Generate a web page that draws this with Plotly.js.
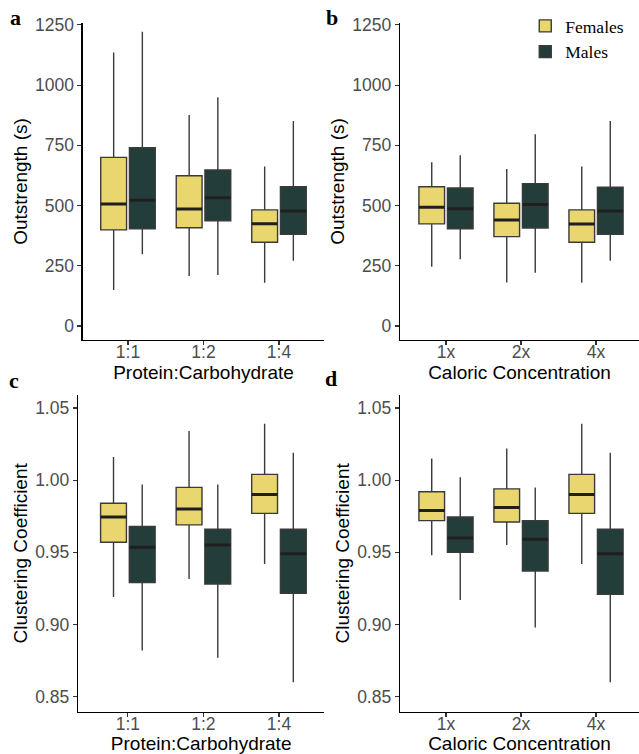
<!DOCTYPE html>
<html>
<head>
<meta charset="utf-8">
<script src="https://cdn.plot.ly/plotly-3.0.1.min.js"></script>
<style>html,body{margin:0;padding:0;background:#fff;}#chart{width:639px;height:754px;}</style>
</head>
<body>
<div id="chart"></div>
<script>
// Categories
const catsPC = ['1:1', '1:2', '1:4'];
const catsCal = ['1x', '2x', '4x'];

// a: Outstrength by Protein:Carbohydrate
const aF_low = [150, 208, 180], aF_q1 = [399, 408, 348], aF_med = [507, 486, 425], aF_q3 = [700, 624, 482], aF_up = [1136, 876, 662];
const aM_low = [298, 212, 271], aM_q1 = [404, 437, 381], aM_med = [522, 533, 478], aM_q3 = [740, 648, 578], aM_up = [1222, 950, 851];

// b: Outstrength by Caloric Concentration
const bF_low = [246, 181, 180], bF_q1 = [424, 371, 348], bF_med = [493, 440, 424], bF_q3 = [578, 510, 482], bF_up = [680, 652, 662];
const bM_low = [277, 221, 271], bM_q1 = [404, 407, 381], bM_med = [487, 505, 478], bM_q3 = [573, 591, 576], bM_up = [709, 796, 851];

// c: Clustering Coefficient by Protein:Carbohydrate
const cF_low = [0.919, 0.9315, 0.942], cF_q1 = [0.957, 0.969, 0.977], cF_med = [0.9745, 0.980, 0.990], cF_q3 = [0.984, 0.995, 1.004], cF_up = [1.016, 1.034, 1.039];
const cM_low = [0.882, 0.877, 0.860], cM_q1 = [0.929, 0.928, 0.9216], cM_med = [0.9535, 0.955, 0.949], cM_q3 = [0.968, 0.966, 0.966], cM_up = [0.997, 0.997, 1.019];

// d: Clustering Coefficient by Caloric Concentration
const dF_low = [0.948, 0.955, 0.942], dF_q1 = [0.972, 0.971, 0.977], dF_med = [0.979, 0.981, 0.990], dF_q3 = [0.992, 0.994, 1.004], dF_up = [1.015, 1.022, 1.039];
const dM_low = [0.917, 0.898, 0.860], dM_q1 = [0.950, 0.937, 0.921], dM_med = [0.960, 0.959, 0.949], dM_q3 = [0.9745, 0.972, 0.966], dM_up = [1.002, 0.995, 1.019];

const seriesNames = ['Females', 'Males'];
const fillColors = ['#E9D66F', '#233E3A'];

const panels = [
  {xa: 'x', ya: 'y', cats: catsPC, F: [aF_low, aF_q1, aF_med, aF_q3, aF_up], M: [aM_low, aM_q1, aM_med, aM_q3, aM_up]},
  {xa: 'x2', ya: 'y2', cats: catsCal, F: [bF_low, bF_q1, bF_med, bF_q3, bF_up], M: [bM_low, bM_q1, bM_med, bM_q3, bM_up]},
  {xa: 'x3', ya: 'y3', cats: catsPC, F: [cF_low, cF_q1, cF_med, cF_q3, cF_up], M: [cM_low, cM_q1, cM_med, cM_q3, cM_up]},
  {xa: 'x4', ya: 'y4', cats: catsCal, F: [dF_low, dF_q1, dF_med, dF_q3, dF_up], M: [dM_low, dM_q1, dM_med, dM_q3, dM_up]}
];

const traces = [];
panels.forEach((p, pi) => {
  [p.F, p.M].forEach((s, si) => {
    traces.push({
      type: 'box', name: seriesNames[si], showlegend: pi === 0,
      xaxis: p.xa, yaxis: p.ya, x: p.cats,
      lowerfence: s[0], q1: s[1], median: s[2], q3: s[3], upperfence: s[4],
      offsetgroup: seriesNames[si], boxpoints: false, whiskerwidth: 0,
      fillcolor: fillColors[si], line: {color: '#3a3a3a', width: 1.4}, hoverinfo: 'skip'
    });
    // thicker median line overlay
    traces.push({
      type: 'box', name: seriesNames[si], showlegend: false,
      xaxis: p.xa, yaxis: p.ya, x: p.cats,
      lowerfence: s[2], q1: s[2], median: s[2], q3: s[2], upperfence: s[2],
      offsetgroup: seriesNames[si], boxpoints: false, whiskerwidth: 0,
      fillcolor: 'rgba(0,0,0,0)', line: {color: '#1f1f1f', width: 3}, hoverinfo: 'skip'
    });
  });
});

const tickFont = {family: 'Liberation Sans, Arial, sans-serif', size: 17.5, color: '#4d4d4d'};
const titleFont = {family: 'Liberation Sans, Arial, sans-serif', size: 19, color: '#000'};
const baseAxis = {showline: true, linecolor: '#000', linewidth: 1.3, showgrid: false, zeroline: false,
  ticks: 'outside', ticklen: 4, tickwidth: 1.1, tickcolor: '#333', tickfont: tickFont, fixedrange: true};

const W = 639, H = 754, MB = 14;
const PH = H - MB;
const fy = px => 1 - px / PH;
const yTopAB = [fy(340), fy(23)];
const yTopCD = [fy(711.7), fy(395)];

const xAxis = (dom, rng, anchor, cats, title) => Object.assign({}, baseAxis, {domain: dom, range: rng, anchor: anchor,
  type: 'category', categoryarray: cats, ticklabelstandoff: -8, title: {text: title, font: titleFont, standoff: 0}});
const yAxis = (dom, rng, anchor, vals, fmt, title) => Object.assign({}, baseAxis, {domain: dom, range: rng, anchor: anchor,
  tickvals: vals, tickformat: fmt, title: {text: title, font: titleFont, standoff: 2}});

const outTicks = [0, 250, 500, 750, 1000, 1250];
const ccTicks = [0.85, 0.90, 0.95, 1.00, 1.05];

const layout = {
  width: W, height: H, margin: {l: 0, r: 0, t: 0, b: MB},
  paper_bgcolor: '#fff', plot_bgcolor: '#fff',
  boxmode: 'group', boxgap: 0.24, boxgroupgap: 0.1,
  showlegend: true,
  legend: {x: 0.822, y: 1 - 8 / PH, xanchor: 'left', yanchor: 'top', bgcolor: 'rgba(0,0,0,0)',
    font: {family: 'Liberation Serif, Times New Roman, serif', size: 17.5, color: '#000'}, tracegroupgap: 0},
  xaxis: xAxis([82.7 / W, 324.3 / W], [-0.6, 2.6], 'y', catsPC, 'Protein:Carbohydrate'),
  yaxis: yAxis(yTopAB, [-58, 1258], 'x', outTicks, 'd', 'Outstrength (s)'),
  xaxis2: xAxis([400 / W, 1], [-0.613, 2.573], 'y2', catsCal, 'Caloric Concentration'),
  yaxis2: yAxis(yTopAB, [-58, 1258], 'x2', outTicks, 'd', 'Outstrength (s)'),
  xaxis3: xAxis([78 / W, 324.3 / W], [-0.66, 2.6], 'y3', catsPC, 'Protein:Carbohydrate'),
  yaxis3: yAxis(yTopCD, [0.8396, 1.059], 'x3', ccTicks, '.2f', 'Clustering Coefficient'),
  xaxis4: xAxis([400 / W, 1], [-0.613, 2.573], 'y4', catsCal, 'Caloric Concentration'),
  yaxis4: yAxis(yTopCD, [0.8396, 1.059], 'x4', ccTicks, '.2f', 'Clustering Coefficient'),
  annotations: [
    {text: '<b>a</b>', x: 15 / W, y: fy(18)},
    {text: '<b>b</b>', x: 332 / W, y: fy(18)},
    {text: '<b>c</b>', x: 14 / W, y: fy(380)},
    {text: '<b>d</b>', x: 331 / W, y: fy(378)}
  ].map(a => Object.assign(a, {xref: 'paper', yref: 'paper', xanchor: 'center', yanchor: 'middle', showarrow: false,
    font: {family: 'Liberation Serif, Times New Roman, serif', size: 22, color: '#000'}}))
};

Plotly.newPlot('chart', traces, layout, {displayModeBar: false, staticPlot: true});
</script>
</body>
</html>
